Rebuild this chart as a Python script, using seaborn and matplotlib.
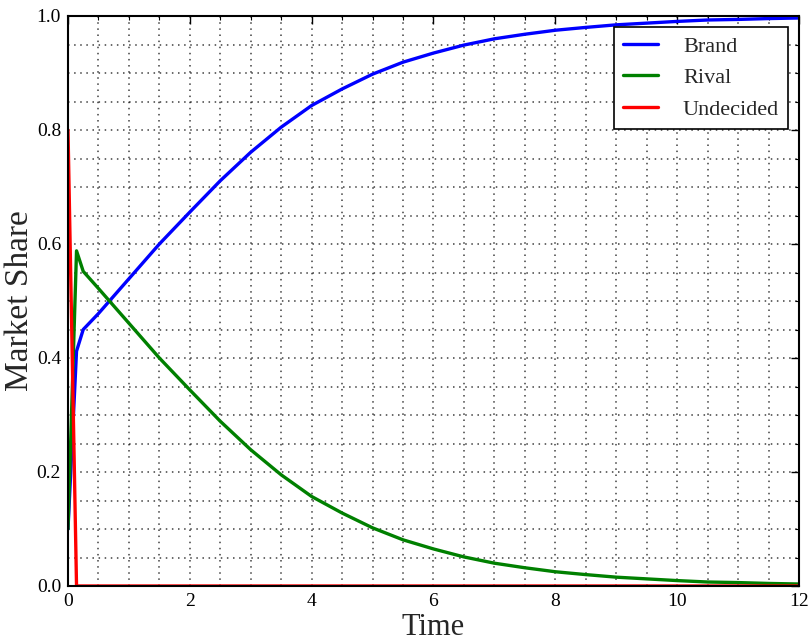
import pandas as pd
import matplotlib
matplotlib.use("Agg")
import matplotlib.pyplot as plt
from matplotlib.ticker import MultipleLocator
import seaborn as sns

# values
time = [0, 0.14, 0.25, 0.5, 1, 1.5, 2, 2.5, 3, 3.5, 4, 4.5, 5, 5.5, 6, 6.5,
        7, 7.5, 8, 8.5, 9, 9.5, 10, 10.5, 11, 11.5, 12]
brand = [0.1, 0.412, 0.45, 0.478, 0.539, 0.60, 0.656, 0.711, 0.761, 0.805,
         0.843, 0.872, 0.898, 0.919, 0.935, 0.949, 0.96, 0.968, 0.975, 0.98,
         0.9845, 0.9875, 0.9905, 0.993, 0.994, 0.9955, 0.9965]
rival = [0.1, 0.588, 0.552, 0.522, 0.461, 0.40, 0.344, 0.289, 0.239, 0.195,
         0.157, 0.128, 0.102, 0.081, 0.065, 0.051, 0.04, 0.032, 0.025, 0.02,
         0.0155, 0.0125, 0.0095, 0.007, 0.006, 0.0045, 0.0035]
undecided = [0.8] + [0.0] * (len(time) - 1)

series = ["Brand", "Rival", "Undecided"]
colors = {"Brand": "blue", "Rival": "green", "Undecided": "red"}

df = pd.DataFrame({"Time": time, "Brand": brand, "Rival": rival, "Undecided": undecided})
df_long = df.melt(id_vars="Time", var_name="Series", value_name="Share")

sns.set_style("white")
plt.rcParams["font.family"] = ["Liberation Serif", "DejaVu Serif"]

fig = plt.figure(figsize=(8.12, 6.41), dpi=100)
ax = fig.add_axes([68 / 812, 1 - 586 / 641, 731 / 812, 570 / 641])

sns.lineplot(data=df_long, x="Time", y="Share", hue="Series", hue_order=series,
             palette=colors, linewidth=2.4, ax=ax)

ax.set_xlim(0, 12)
ax.set_ylim(0, 1)
ax.xaxis.set_major_locator(MultipleLocator(2))
ax.xaxis.set_minor_locator(MultipleLocator(0.5))
ax.yaxis.set_major_locator(MultipleLocator(0.2))
ax.yaxis.set_minor_locator(MultipleLocator(0.05))
ax.grid(True, which="both", color="black", linestyle=(0, (1, 3)), linewidth=1.1, alpha=0.75)
ax.tick_params(which="both", direction="in", top=True, right=True, colors="black",
               labelsize=14, pad=5)
ax.tick_params(which="major", length=6, width=1)
ax.tick_params(which="minor", length=3, width=0.8)
for s in ax.spines.values():
    s.set_color("black")
    s.set_linewidth(1.5)

ax.set_xlabel("Time", fontsize=22, labelpad=2)
ax.set_ylabel("Market Share", fontsize=24, labelpad=1)

leg = ax.legend(loc="upper right", fontsize=16, frameon=True, fancybox=False,
                edgecolor="black", framealpha=1, handlelength=1.6, borderpad=0.4,
                labelspacing=0.5, handletextpad=1.1, borderaxespad=0.5)
leg.get_frame().set_linewidth(1.2)

fig.savefig("out.png", dpi=100)
